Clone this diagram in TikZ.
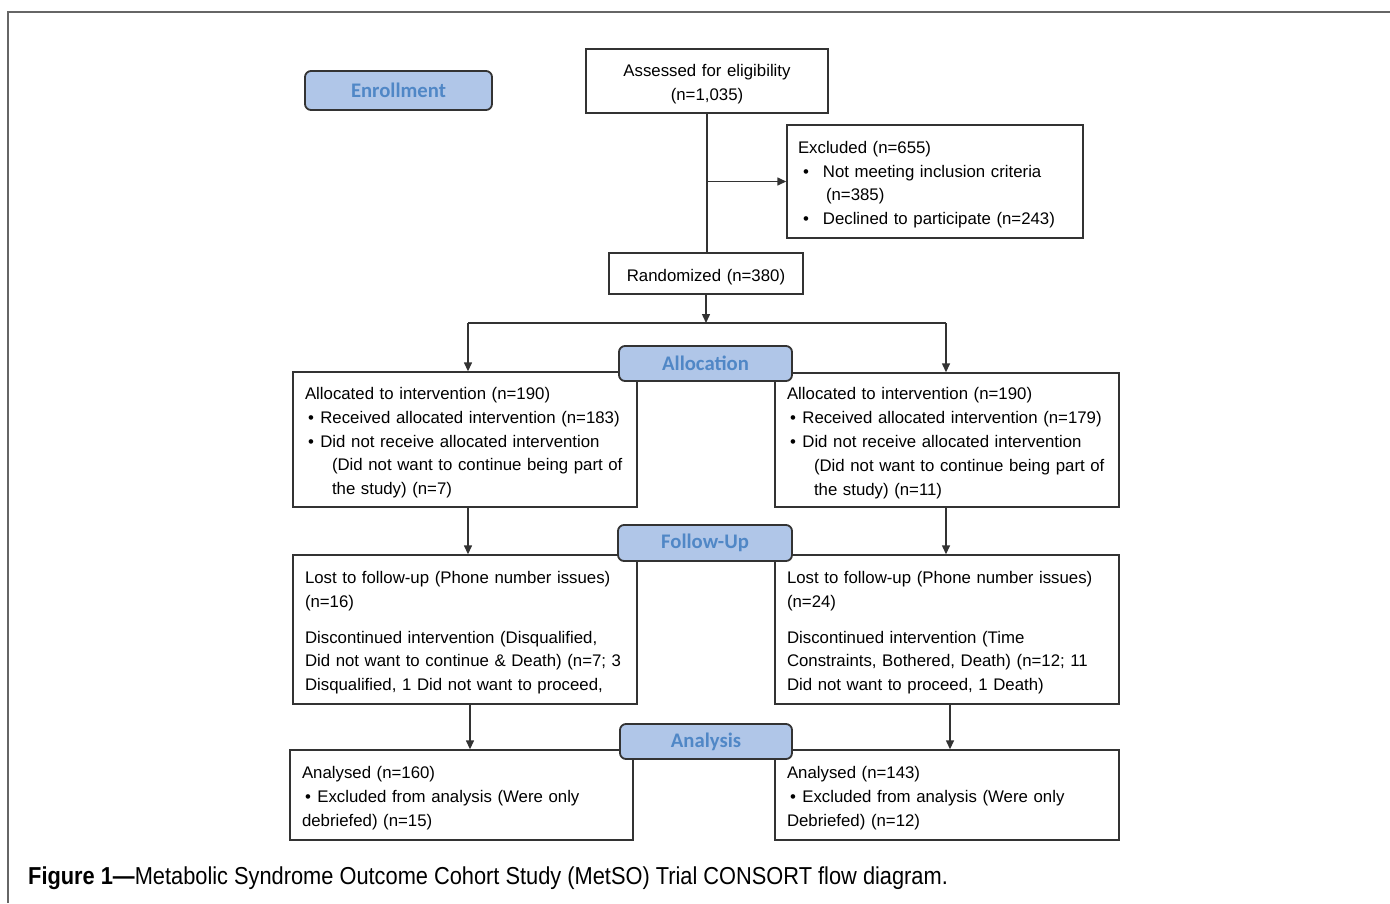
\documentclass[tikz,border=0pt]{standalone}
\usepackage{fontspec}
\setmainfont{Liberation Sans}
\newfontfamily\lblfont{Carlito}
\newfontfamily\capfont[FakeStretch=0.89]{Liberation Sans}
\usetikzlibrary{arrows.meta}
\definecolor{lblfill}{HTML}{B0C6E8}
\definecolor{lbltext}{HTML}{5087C6}
\definecolor{edge}{HTML}{333333}
\definecolor{framegray}{HTML}{666666}
\tikzset{
  box/.style={draw=edge, line width=1.4pt, fill=white, inner xsep=12pt, inner ysep=0pt,
    font=\fontsize{16.8}{23.8}\selectfont, align=left,
    execute at begin node={\rule{0pt}{18.5pt}}},
  cbox/.style={box, align=center},
  lbl/.style={draw=edge, line width=1.8pt, fill=lblfill, rounded corners=6pt,
    font=\lblfont\bfseries\fontsize{20.7}{23}\selectfont, text=lbltext, inner sep=0pt},
  arr/.style={draw=edge, line width=1.4pt, -{Triangle[length=9pt,width=8pt]}},
  ln/.style={draw=edge, line width=1.4pt},
}
\newcommand{\bul}[2]{\hspace*{#1}\textbullet\hspace{#2}}
\begin{document}
\begin{tikzpicture}[x=1pt,y=-1pt]
\useasboundingbox (0,0) rectangle (1390,903);
% outer frame
\draw[framegray, line width=2.5pt] (8,903) -- (8,12) -- (1390,12);

% top
\node[cbox, minimum width=242pt, minimum height=64pt, text width=218pt] (assess) at (707,81)
  {Assessed for eligibility\\(n=1,035)};
\node[box, inner xsep=11pt, minimum width=296pt, minimum height=113pt, text width=274pt] (excl) at (935,181.5)
  {Excluded (n=655)\\
   \bul{5pt}{14pt}Not meeting inclusion criteria\\
   \hspace*{28pt}(n=385)\\
   \bul{5pt}{14pt}Declined to participate (n=243)};
\node[cbox, minimum width=194pt, minimum height=41pt, text width=170pt] (rand) at (706,273.5)
  {Randomized (n=380)};

% allocation
\node[box, minimum width=344pt, minimum height=135pt, text width=320pt] (aL) at (465,439.5)
  {Allocated to intervention (n=190)\\
   \bul{3pt}{6.5pt}Received allocated intervention (n=183)\\
   \bul{3pt}{6.5pt}Did not receive allocated intervention\\
   \hspace*{27pt}(Did not want to continue being part of\\
   \hspace*{27pt}the study) (n=7)};
\node[box, minimum width=344pt, minimum height=134pt, text width=320pt] (aR) at (947,440)
  {Allocated to intervention (n=190)\\
   \bul{3pt}{6.5pt}Received allocated intervention (n=179)\\
   \bul{3pt}{6.5pt}Did not receive allocated intervention\\
   \hspace*{27pt}(Did not want to continue being part of\\
   \hspace*{27pt}the study) (n=11)};

% follow-up
\node[box, minimum width=344pt, minimum height=149pt, text width=320pt] (fL) at (465,629.5)
  {Lost to follow-up (Phone number issues)\\
   (n=16)\\[12pt]
   Discontinued intervention (Disqualified,\\
   Did not want to continue \& Death) (n=7; 3\\
   Disqualified, 1 Did not want to proceed,};
\node[box, minimum width=344pt, minimum height=149pt, text width=320pt] (fR) at (947,629.5)
  {Lost to follow-up (Phone number issues)\\
   (n=24)\\[12pt]
   Discontinued intervention (Time\\
   Constraints, Bothered, Death) (n=12; 11\\
   Did not want to proceed, 1 Death)};

% analysis
\node[box, minimum width=343pt, minimum height=90pt, text width=319pt] (nL) at (461.5,795)
  {Analysed (n=160)\\
   \bul{3pt}{6.5pt}Excluded from analysis (Were only\\
   debriefed) (n=15)};
\node[box, minimum width=344pt, minimum height=90pt, text width=320pt] (nR) at (947,795)
  {Analysed (n=143)\\
   \bul{3pt}{6.5pt}Excluded from analysis (Were only\\
   Debriefed) (n=12)};

% connectors
\coordinate (xL1) at (468,0);
\coordinate (xR1) at (946,0);
\coordinate (xL2) at (470,0);
\coordinate (xR2) at (950,0);
\coordinate (ysplit) at (0,323);
\draw[ln] (assess.south) -- (assess.south |- rand.north);
\draw[arr] (assess.south |- excl.west) -- (excl.west);
\draw[arr] (rand.south) -- (rand.south |- ysplit);
\draw[ln] (xL1 |- ysplit) -- (xR1 |- ysplit);
\draw[arr] (xL1 |- ysplit) -- (xL1 |- aL.north);
\draw[arr] (xR1 |- ysplit) -- (xR1 |- aR.north);
\draw[arr] (xL1 |- aL.south) -- (xL1 |- fL.north);
\draw[arr] (xR1 |- aR.south) -- (xR1 |- fR.north);
\draw[arr] (xL2 |- fL.south) -- (xL2 |- nL.north);
\draw[arr] (xR2 |- fR.south) -- (xR2 |- nR.north);

% stage labels
\node[lbl, minimum width=187pt, minimum height=39pt] (enr) at (398.5,90.5) {Enrollment};
\node[lbl, minimum width=173pt, minimum height=35pt] (alloc) at (705.5,363.5) {Allocation};
\node[lbl, minimum width=174pt, minimum height=36pt] (fu) at (705,543) {Follow-Up};
\node[lbl, minimum width=172pt, minimum height=35pt] (ana) at (706,741.5) {Analysis};

% caption
\node[anchor=base west, inner sep=0pt, font=\capfont\fontsize{24.5}{27}\selectfont] (cap) at (28,884)
  {\textbf{Figure 1—}Metabolic Syndrome Outcome Cohort Study (MetSO) Trial CONSORT flow diagram.};
\end{tikzpicture}
\end{document}
